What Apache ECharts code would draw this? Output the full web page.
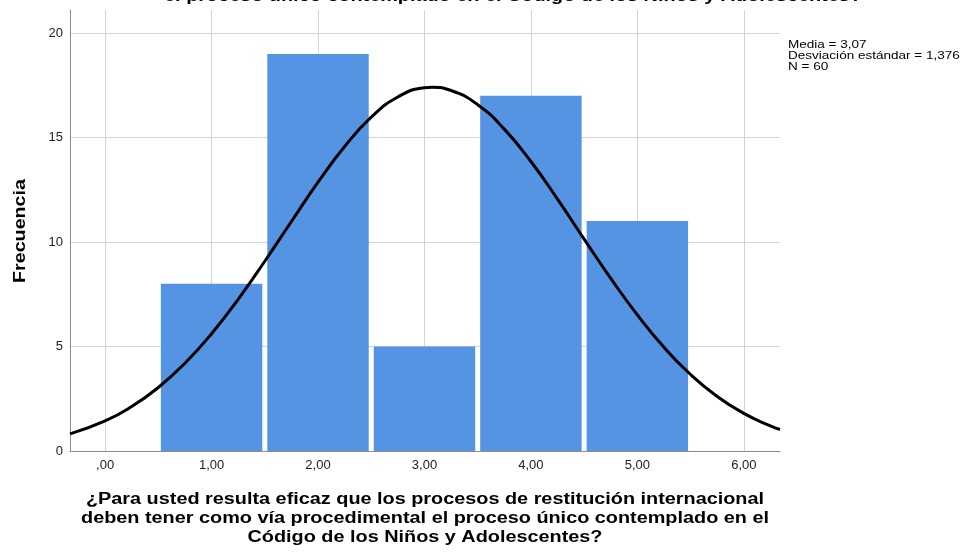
<!DOCTYPE html>
<html><head><meta charset="utf-8">
<script src="https://cdn.jsdelivr.net/npm/echarts@6/dist/echarts.min.js"></script>
<style>html,body{margin:0;padding:0;background:#fff}#c{width:962px;height:552px}</style>
</head><body><div id="c"></div>
<script>
const binStart = [0.5, 1.5, 2.5, 3.5, 4.5];
const binEnd   = [1.5, 2.5, 3.5, 4.5, 5.5];
const counts   = [8, 19, 5, 17, 11];
const curveX = [-0.33, 0, 0.25, 0.5, 0.75, 1, 1.25, 1.5, 1.75, 2, 2.25, 2.5, 2.75, 3, 3.07, 3.25, 3.5, 3.75, 4, 4.25, 4.5, 4.75, 5, 5.25, 5.5, 5.75, 6, 6.25, 6.34];
const curveY = [0.82, 1.44, 2.13, 3.04, 4.20, 5.61, 7.26, 9.08, 10.98, 12.86, 14.57, 15.97, 16.94, 17.38, 17.40, 17.25, 16.57, 15.40, 13.85, 12.05, 10.14, 8.26, 6.51, 4.96, 3.66, 2.61, 1.80, 1.20, 1.03];
const statsLines = ['Media = 3,07', 'Desviación estándar = 1,376', 'N = 60'];
const titleText = 'el proceso único contemplado en el Código de los Niños y Adolescentes?';
const xName = '¿Para usted resulta eficaz que los procesos de restitución internacional\ndeben tener como vía procedimental el proceso único contemplado en el\nCódigo de los Niños y Adolescentes?';
const yName = 'Frecuencia';

const font = 'Arial, "Liberation Sans", sans-serif';
const chart = echarts.init(document.getElementById('c'), null, {renderer: 'canvas'});
const histData = binStart.map((s, i) => [s, binEnd[i], counts[i]]);
const curveData = curveX.map((x, i) => [x, curveY[i]]);

chart.setOption({
  animation: false,
  backgroundColor: '#fff',
  grid: {left: 70, right: 182, top: 10, bottom: 101},
  xAxis: {
    type: 'value', min: -0.33, max: 6.34, minInterval: 1, maxInterval: 1,
    axisLine: {show: true, onZero: false, lineStyle: {color: '#8c8c8c', width: 1}},
    axisTick: {show: false},
    axisLabel: {
      showMinLabel: false, showMaxLabel: false, color: '#222', fontFamily: font, fontSize: 13, margin: 8,
      formatter: v => { let s = v.toFixed(2).replace('.', ','); if (s.startsWith('0,')) s = s.slice(1); return s; }
    },
    splitLine: {show: true, showMinLine: false, showMaxLine: false, lineStyle: {color: '#d4d4d4', width: 1}}
  },
  yAxis: {
    type: 'value', min: 0, max: 21.1, minInterval: 5, maxInterval: 5,
    axisLine: {show: true, onZero: false, lineStyle: {color: '#8c8c8c', width: 1}},
    axisTick: {show: false},
    axisLabel: {showMaxLabel: false, color: '#222', fontFamily: font, fontSize: 13, margin: 7},
    splitLine: {show: true, showMinLine: false, showMaxLine: false, lineStyle: {color: '#d4d4d4', width: 1}}
  },
  graphic: [
    {type: 'text', x: 513, y: -11, scaleX: 1.24, style: {text: titleText, font: 'bold 16px ' + font, fill: '#000', textAlign: 'center'}, z: 100},
    {type: 'text', x: 788, y: 39, scaleX: 1.23, style: {text: statsLines.join('\n'), font: '11px ' + font, lineHeight: 11, fill: '#000'}},
    {type: 'text', x: 425, y: 490, scaleX: 1.24, style: {text: xName, font: 'bold 16px ' + font, lineHeight: 19, fill: '#000', textAlign: 'center'}},
    {type: 'text', x: 21, y: 231, rotation: Math.PI / 2, scaleX: 1.23, style: {text: yName, font: 'bold 16px ' + font, fill: '#000', textAlign: 'center', textVerticalAlign: 'middle'}}
  ],
  series: [
    {
      type: 'custom', data: histData, z: 2,
      encode: {x: [0, 1], y: 2},
      renderItem: (params, api) => {
        const s = api.coord([api.value(0), 0]);
        const e = api.coord([api.value(1), api.value(2)]);
        return {type: 'rect', shape: {x: s[0] + 2.5, y: e[1], width: e[0] - s[0] - 5, height: s[1] - e[1]},
                style: {fill: '#5593e3'}};
      }
    },
    {
      type: 'line', data: curveData, smooth: true, showSymbol: false, z: 5, clip: true,
      lineStyle: {color: '#000', width: 3}
    }
  ]
});
</script></body></html>
